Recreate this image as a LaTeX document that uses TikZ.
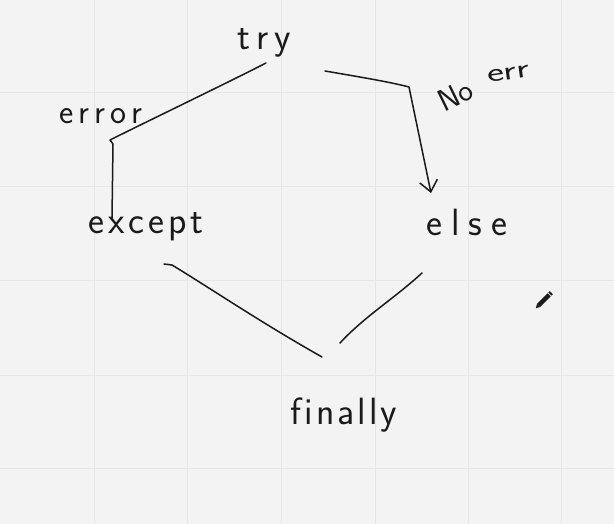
\documentclass[tikz,border=0pt]{standalone}
\usetikzlibrary{arrows.meta}
\definecolor{bg}{HTML}{F3F3F3}
\definecolor{gridc}{HTML}{E6E6E6}
\definecolor{ink}{HTML}{1A1A1A}
\newcommand\lsp[1]{\kern#1pt\relax}
\begin{document}
\begin{tikzpicture}[x=1pt,y=-1pt,
  hand/.style={font=\sffamily\fontsize{38}{38}\selectfont, text=ink, inner sep=0pt, anchor=base},
  stroke/.style={draw=ink, line width=1.5pt, line cap=round, line join=round},
  gridline/.style={draw=gridc, line width=1pt}]
\fill[bg] (0,0) rectangle (614,524);
\useasboundingbox (0,0) rectangle (614,524);
% grid
\foreach \gx in {94,187,281,375,468,561} \draw[gridline] (\gx,0) -- (\gx,524);
\foreach \gy in {93,187,281,375,468} \draw[gridline] (0,\gy) -- (614,\gy);
% texts
\node[hand] (try) at (264,50) {t\lsp{6}r\lsp{6}y};
\node[hand, font=\sffamily\fontsize{34}{34}\selectfont] (error) at (101,124) {e\lsp{5}r\lsp{5}r\lsp{5}o\lsp{5}r};
\node[hand] (except) at (146,234) {e\lsp{4}x\lsp{4}c\lsp{4}e\lsp{4}p\lsp{4}t};
\node[hand] (else) at (467,236) {e\lsp{9}l\lsp{9}s\lsp{9}e};
\node[hand] (finally) at (344,424) {f\lsp{3}i\lsp{3}n\lsp{3}a\lsp{3}l\lsp{3}l\lsp{3}y};
\node[hand, font=\sffamily\fontsize{31}{31}\selectfont, rotate=26, anchor=base west] (noerr) at (444,113) {No};
\node[hand, font=\sffamily\fontsize{27}{27}\selectfont, rotate=8, anchor=base west] (noerr2) at (488,83) {\scalebox{1.5}[1]{err}};
% connector coordinates
\coordinate (a1) at (266,63);
\coordinate (a2) at (110,140);
\coordinate (a3) at (113,144);
\coordinate (a4) at (112,218);
\coordinate (b1) at (325,71);
\coordinate (b2) at (409,87);
\coordinate (b3) at (431,193);
\coordinate (c1) at (164,264);
\coordinate (c2) at (172,265);
\coordinate (c3) at (322,357);
\coordinate (d1) at (422,273);
\coordinate (d2) at (340,343);
% try -> except (error)
\draw[stroke] (a1) .. controls (225,84) and (150,120) .. (a2) -- (a3) -- (a4);
% try -> else (No err)
\draw[stroke, -{Straight Barb[length=11pt,width=18pt,line width=1.5pt]}]
  (b1) .. controls (360,77) and (390,82) .. (b2) -- (b3);
% except -> finally
\draw[stroke] (c1) -- (c2) .. controls (210,288) and (260,322) .. (c3);
% else -> finally
\draw[stroke] (d1) .. controls (395,298) and (365,316) .. (d2);
% pencil cursor
\begin{scope}[shift={(545,299)}, rotate=45]
  \fill[ink] (-9,-2.2) rectangle (6,2.2);
  \fill[ink] (-9,-2.2) -- (-13,0) -- (-9,2.2) -- cycle;
  \fill[ink] (7,-2.2) rectangle (9,2.2);
\end{scope}
\end{tikzpicture}
\end{document}
